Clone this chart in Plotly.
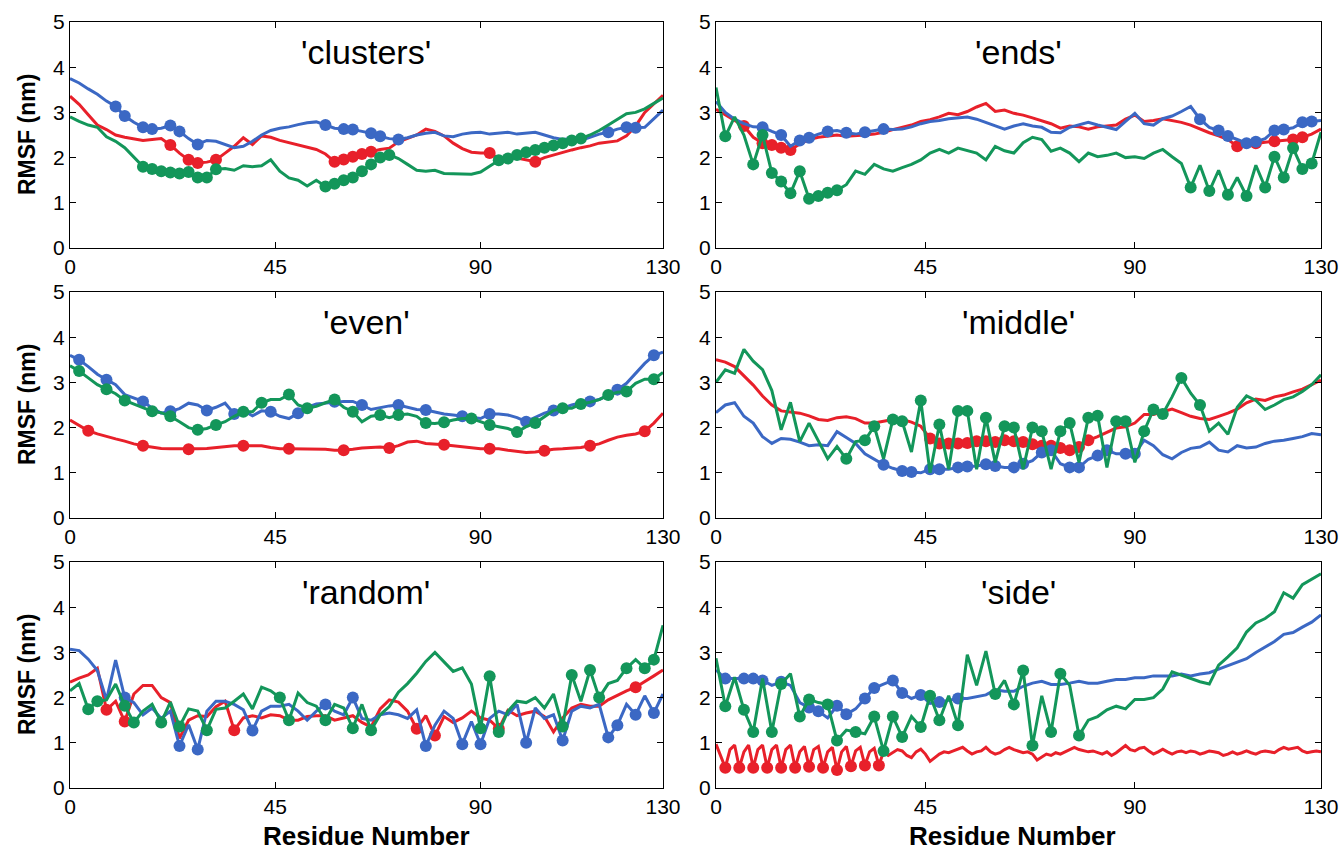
import plotly.graph_objects as go

RED = "#e8202a"
BLUE = "#3b68c4"
GREEN = "#13965a"

X_TICKS = [0, 45, 90, 130]
Y_TICKS = [0, 1, 2, 3, 4, 5]
TITLES = ["'clusters'", "'ends'", "'even'", "'middle'", "'random'", "'side'"]

# ---- values at residues 0,2,4,...,130 (side_red: every residue 0..130) ----
clusters_red = [3.36,3.18,2.95,2.72,2.62,2.5,2.45,2.42,2.38,2.4,
                2.42,2.28,2.1,1.95,1.88,1.9,1.95,2.1,2.25,2.44,
                2.29,2.48,2.45,2.38,2.33,2.28,2.23,2.18,2.08,1.91,
                1.96,2.02,2.08,2.13,2.18,2.21,2.35,2.42,2.5,2.63,
                2.58,2.48,2.32,2.2,2.12,2.1,2.1,1.98,2.02,1.99,
                1.95,1.91,2.0,2.06,2.12,2.17,2.22,2.26,2.32,2.35,
                2.37,2.48,2.7,3.0,3.2,3.38]
clusters_red_marks = [22,26,28,32,58,60,62,64,66,92,102]
clusters_blue = [3.75,3.65,3.52,3.4,3.25,3.13,2.92,2.78,2.67,2.63,
                 2.65,2.71,2.58,2.42,2.29,2.38,2.36,2.29,2.22,2.25,
                 2.36,2.5,2.6,2.65,2.68,2.73,2.77,2.79,2.72,2.65,
                 2.63,2.62,2.58,2.54,2.47,2.42,2.4,2.44,2.5,2.54,
                 2.56,2.48,2.46,2.52,2.55,2.56,2.52,2.54,2.56,2.52,
                 2.54,2.56,2.5,2.44,2.4,2.42,2.38,2.45,2.52,2.56,
                 2.63,2.67,2.66,2.67,2.85,3.05]
clusters_blue_marks = [10,12,16,18,22,24,28,56,60,62,66,68,72,118,122,124]
clusters_green = [2.9,2.8,2.72,2.67,2.46,2.36,2.22,2.0,1.8,1.75,
                  1.7,1.67,1.65,1.68,1.56,1.56,1.74,1.76,1.72,1.82,
                  1.8,1.82,1.95,1.7,1.55,1.5,1.37,1.5,1.36,1.42,
                  1.5,1.56,1.7,1.85,2.0,2.06,1.98,1.85,1.72,1.7,
                  1.72,1.65,1.64,1.64,1.63,1.68,1.82,1.94,1.98,2.06,
                  2.12,2.17,2.22,2.27,2.32,2.38,2.42,2.5,2.6,2.72,
                  2.85,2.97,3.0,3.08,3.2,3.32]
clusters_green_marks = [16,18,20,22,24,26,28,30,32,56,58,60,62,64,66,68,70,
                        94,96,98,100,102,104,106,108,110,112]

ends_red = [3.07,2.95,2.82,2.7,2.45,2.32,2.28,2.22,2.17,2.3,
            2.4,2.45,2.48,2.5,2.47,2.48,2.5,2.52,2.56,2.62,
            2.67,2.72,2.8,2.84,2.9,2.98,2.95,3.02,3.12,3.2,
            3.02,3.05,2.98,2.94,2.88,2.82,2.75,2.65,2.7,2.68,
            2.63,2.68,2.7,2.72,2.85,2.94,2.8,2.82,2.86,2.82,
            2.78,2.72,2.63,2.55,2.48,2.4,2.25,2.28,2.32,2.34,
            2.36,2.38,2.4,2.45,2.52,2.63]
ends_red_marks = [6,10,12,14,16,112,116,120,124,126]
ends_blue = [3.24,3.0,2.85,2.75,2.68,2.67,2.58,2.5,2.25,2.38,
             2.44,2.52,2.58,2.6,2.55,2.52,2.56,2.6,2.63,2.62,
             2.63,2.68,2.75,2.8,2.82,2.86,2.88,2.9,2.85,2.78,
             2.7,2.63,2.7,2.75,2.7,2.67,2.56,2.55,2.67,2.72,
             2.78,2.72,2.67,2.62,2.8,2.98,2.75,2.72,2.86,2.92,
             3.02,3.13,2.85,2.67,2.6,2.48,2.4,2.32,2.35,2.42,
             2.6,2.62,2.66,2.78,2.8,2.82]
ends_blue_marks = [10,14,18,20,24,28,32,36,104,108,110,114,116,120,122,126,128]
ends_green = [3.55,2.47,2.9,2.5,1.85,2.5,1.66,1.47,1.21,1.7,
              1.09,1.15,1.22,1.28,1.4,1.7,1.63,1.85,1.75,1.7,
              1.78,1.85,1.95,2.1,2.18,2.1,2.21,2.15,2.1,1.95,
              2.25,2.15,2.1,2.33,2.45,2.4,2.14,2.21,2.1,1.91,
              2.1,2.02,2.05,2.1,2.0,2.02,1.98,2.1,2.18,2.02,
              1.87,1.34,1.83,1.26,1.72,1.18,1.56,1.15,1.83,1.34,
              2.02,1.56,2.21,1.75,1.87,2.56]
ends_green_marks = [2,8,10,12,14,16,18,20,22,24,26,102,106,110,114,118,120,122,124,126,128]

even_red = [2.17,2.05,1.93,1.86,1.8,1.75,1.7,1.64,1.6,1.57,
            1.54,1.53,1.53,1.52,1.53,1.54,1.56,1.58,1.6,1.6,
            1.6,1.6,1.56,1.53,1.53,1.53,1.53,1.52,1.52,1.5,
            1.5,1.52,1.55,1.56,1.57,1.55,1.6,1.68,1.7,1.65,
            1.64,1.62,1.6,1.58,1.55,1.53,1.53,1.53,1.5,1.47,
            1.45,1.46,1.49,1.52,1.53,1.55,1.56,1.6,1.64,1.72,
            1.79,1.83,1.86,1.92,2.1,2.32]
even_red_marks = [4,16,26,38,48,60,70,82,92,104,114,126]
even_blue = [3.6,3.5,3.35,3.18,3.06,2.95,2.73,2.66,2.58,2.43,
             2.32,2.36,2.42,2.54,2.5,2.38,2.45,2.54,2.3,2.38,
             2.26,2.37,2.35,2.25,2.2,2.32,2.45,2.52,2.54,2.57,
             2.58,2.58,2.5,2.4,2.44,2.48,2.5,2.45,2.4,2.39,
             2.34,2.3,2.28,2.25,2.22,2.2,2.3,2.3,2.28,2.22,
             2.13,2.22,2.32,2.38,2.43,2.5,2.55,2.58,2.62,2.72,
             2.84,2.98,3.2,3.42,3.6,3.67]
even_blue_marks = [2,8,16,22,30,36,44,50,58,64,72,78,86,92,100,106,114,120,128]
even_green = [3.37,3.25,3.1,2.95,2.85,2.75,2.6,2.52,2.45,2.36,
              2.33,2.25,2.13,2.0,1.95,1.98,2.06,2.13,2.25,2.35,
              2.35,2.55,2.62,2.62,2.73,2.5,2.43,2.47,2.55,2.62,
              2.45,2.35,2.13,2.25,2.28,2.22,2.28,2.3,2.25,2.1,
              2.09,2.12,2.17,2.2,2.2,2.13,2.06,2.02,1.98,1.9,
              2.02,2.1,2.24,2.38,2.43,2.43,2.52,2.56,2.62,2.72,
              2.78,2.8,2.98,3.07,3.07,3.22]
even_green_marks = [2,8,12,18,22,28,32,38,42,48,52,58,62,68,72,78,82,88,92,98,
                    102,108,112,118,122,128]

middle_red = [3.5,3.45,3.35,3.15,2.94,2.7,2.5,2.37,2.35,2.32,
              2.26,2.18,2.16,2.22,2.24,2.2,2.1,2.1,2.14,2.18,
              2.18,2.12,2.03,1.76,1.65,1.65,1.65,1.66,1.7,1.7,
              1.68,1.72,1.7,1.68,1.63,1.6,1.6,1.55,1.5,1.57,
              1.72,1.8,1.9,1.99,2.02,2.1,2.29,2.29,2.35,2.41,
              2.33,2.25,2.2,2.18,2.25,2.32,2.41,2.55,2.63,2.6,
              2.68,2.72,2.79,2.85,2.95,3.05]
middle_red_marks = [46,48,50,52,54,56,58,60,62,64,66,68,70,72,74,76,78,80]
middle_blue = [2.33,2.5,2.55,2.25,2.1,1.8,1.65,1.76,1.74,1.68,
               1.6,1.62,1.6,1.91,1.78,1.65,1.42,1.3,1.18,1.1,
               1.04,1.02,1.0,1.08,1.08,1.08,1.12,1.14,1.15,1.19,
               1.15,1.12,1.12,1.2,1.27,1.45,1.5,1.2,1.12,1.12,
               1.3,1.38,1.5,1.42,1.42,1.42,1.72,1.6,1.4,1.31,
               1.45,1.54,1.57,1.68,1.5,1.46,1.6,1.55,1.57,1.65,
               1.7,1.72,1.76,1.8,1.87,1.84]
middle_blue_marks = [36,40,42,46,48,52,54,58,60,64,66,70,72,76,78,82,84,88,90]
middle_green = [3.0,3.28,3.2,3.73,3.47,3.28,2.82,1.95,2.56,1.69,
                2.1,1.69,1.31,1.58,1.31,1.69,1.72,2.03,1.31,2.18,
                2.14,1.46,2.6,1.0,2.07,1.08,2.37,2.37,1.08,2.22,
                1.23,2.03,2.0,1.08,2.0,1.92,1.08,1.92,2.1,1.23,
                2.22,2.26,1.12,2.14,2.14,1.23,1.92,2.4,2.3,2.68,
                3.1,2.76,2.5,1.92,2.1,1.85,2.45,2.7,2.6,2.4,
                2.5,2.62,2.68,2.8,2.95,3.17]
middle_green_marks = [28,32,34,38,40,44,48,52,54,58,62,64,68,70,74,76,80,82,86,88,
                      92,94,96,100,104]

random_red = [2.34,2.43,2.5,2.65,1.73,1.92,1.47,2.08,2.27,2.27,
              2.0,1.89,1.1,1.5,1.6,1.58,1.8,1.92,1.28,1.55,
              1.6,1.55,1.62,1.6,1.5,1.5,1.58,1.6,1.6,1.5,
              1.55,1.6,1.45,1.35,1.75,1.95,1.9,1.7,1.31,1.6,
              1.16,1.58,1.45,1.55,1.7,1.55,1.5,1.31,1.72,1.6,
              1.66,1.7,1.58,1.24,1.55,1.77,1.85,1.81,1.81,1.95,
              2.05,2.15,2.23,2.35,2.48,2.61]
random_red_marks = [8,12,36,76,80,94,124]
random_blue = [3.07,3.04,2.85,2.6,1.95,2.83,2.0,1.89,1.62,1.77,
               1.54,1.7,0.93,1.4,0.85,1.7,1.92,1.92,1.85,1.73,
               1.27,1.7,1.81,1.81,1.85,1.7,1.5,1.7,1.85,1.7,
               1.62,2.0,1.54,1.5,1.62,1.66,1.62,1.54,1.73,0.93,
               1.39,1.7,1.54,0.97,1.47,0.97,1.54,1.7,1.62,1.85,
               1.0,1.77,1.54,1.62,1.05,1.7,1.81,1.77,1.85,1.12,
               1.39,1.85,1.62,2.04,1.66,2.08]
random_blue_marks = [12,24,28,40,56,62,78,86,90,100,108,118,120,124,128]
random_green = [2.15,2.31,1.74,1.92,1.95,2.3,1.82,1.45,1.7,1.85,
                1.45,1.9,1.36,1.75,1.7,1.28,1.74,1.77,1.92,2.08,
                1.75,2.23,2.15,2.0,1.5,2.1,1.89,1.81,1.5,1.85,
                1.77,1.32,1.85,1.28,1.62,1.8,2.12,2.31,2.54,2.8,
                3.0,2.8,2.58,2.66,2.3,1.32,2.47,1.24,1.7,1.92,
                1.89,2.0,1.77,2.08,1.36,2.5,1.92,2.61,2.0,2.31,
                2.38,2.65,2.84,2.65,2.84,3.6]
random_green_marks = [4,6,12,14,20,24,30,46,48,56,62,66,90,92,94,108,110,114,116,
                      122,126,128]

side_red = [0.97,0.7,0.45,0.85,0.95,0.45,0.8,0.95,0.45,0.85,
            0.95,0.45,0.85,0.95,0.45,0.85,0.95,0.45,0.8,0.92,
            0.47,0.85,0.92,0.45,0.8,0.9,0.4,0.8,0.92,0.48,
            0.82,0.9,0.5,0.8,0.88,0.5,0.8,0.72,0.78,0.85,
            0.82,0.72,0.67,0.8,0.86,0.75,0.59,0.68,0.75,0.8,
            0.78,0.82,0.86,0.9,0.82,0.75,0.8,0.82,0.9,0.8,
            0.75,0.78,0.85,0.9,0.85,0.82,0.78,0.8,0.75,0.62,
            0.68,0.75,0.72,0.78,0.75,0.8,0.86,0.9,0.85,0.82,
            0.8,0.82,0.78,0.75,0.8,0.72,0.78,0.85,0.94,0.85,
            0.82,0.88,0.9,0.82,0.75,0.8,0.86,0.8,0.75,0.8,
            0.82,0.78,0.82,0.8,0.75,0.78,0.82,0.8,0.78,0.72,
            0.75,0.8,0.75,0.78,0.82,0.78,0.75,0.8,0.82,0.8,
            0.78,0.85,0.9,0.86,0.88,0.9,0.82,0.78,0.8,0.82,
            0.8]
side_red_marks = [2,5,8,11,14,17,20,23,26,29,32,35]
side_blue = [2.61,2.42,2.42,2.42,2.42,2.38,2.27,2.35,2.27,1.89,
             1.78,1.7,1.55,1.82,1.63,1.75,1.98,2.21,2.3,2.38,
             2.1,1.98,2.06,1.87,1.9,1.94,1.98,1.98,2.02,2.06,
             2.17,2.14,2.14,2.25,2.32,2.36,2.29,2.29,2.32,2.36,
             2.32,2.32,2.36,2.4,2.4,2.44,2.44,2.48,2.48,2.48,
             2.52,2.48,2.52,2.55,2.63,2.71,2.78,2.86,3.0,3.12,
             3.24,3.4,3.44,3.56,3.67,3.83]
side_blue_marks = [2,6,8,10,14,20,22,26,28,32,34,38,40,44,48,52]
side_green = [2.87,1.81,2.45,1.73,1.24,2.42,1.24,2.3,2.53,1.58,
              1.96,1.89,1.85,1.05,1.28,1.24,1.2,1.58,0.82,1.58,
              1.13,1.58,1.35,2.04,1.5,2.04,1.39,2.95,2.27,3.03,
              2.08,2.38,1.85,2.6,0.94,2.04,1.24,2.53,2.27,1.16,
              1.5,1.58,1.73,1.81,1.75,1.96,1.96,2.0,2.19,2.57,
              2.5,2.42,2.35,2.3,2.72,2.9,3.1,3.45,3.65,3.75,
              3.9,4.32,4.2,4.5,4.62,4.74]
side_green_marks = [2,6,8,12,14,18,20,24,26,30,34,36,38,40,44,46,48,52,60,64,66,68,
                    72,74,78]

PANELS = [
    [(clusters_red, clusters_red_marks, RED), (clusters_blue, clusters_blue_marks, BLUE),
     (clusters_green, clusters_green_marks, GREEN)],
    [(ends_red, ends_red_marks, RED), (ends_blue, ends_blue_marks, BLUE),
     (ends_green, ends_green_marks, GREEN)],
    [(even_red, even_red_marks, RED), (even_blue, even_blue_marks, BLUE),
     (even_green, even_green_marks, GREEN)],
    [(middle_red, middle_red_marks, RED), (middle_blue, middle_blue_marks, BLUE),
     (middle_green, middle_green_marks, GREEN)],
    [(random_red, random_red_marks, RED), (random_blue, random_blue_marks, BLUE),
     (random_green, random_green_marks, GREEN)],
    [(side_red, side_red_marks, RED), (side_blue, side_blue_marks, BLUE),
     (side_green, side_green_marks, GREEN)],
]

# the page's body margin is removed (see post_script), so positions are page pixels
W, H = 1339, 852
COLS = [(70, 663), (716, 1321)]
ROWS = [(22, 248), (292, 518), (562, 788)]
XLABEL_CX = [366, 1012]
FONT = "Liberation Sans, Arial, sans-serif"


def px_x(p):
    return p / W


def px_y(p):
    return 1 - p / H


fig = go.Figure()
layout_axes = {}
annotations = []
for i, series in enumerate(PANELS):
    r, c = divmod(i, 2)
    n_ax = i + 1
    sfx = "" if n_ax == 1 else str(n_ax)
    xd = [px_x(COLS[c][0]), px_x(COLS[c][1])]
    yd = [px_y(ROWS[r][1]), px_y(ROWS[r][0])]
    for y, marks, color in series:
        n = len(y)
        step = 130 / (n - 1)
        xs = [k * step for k in range(n)]
        sizes = [12 if any(abs(xv - m) < step / 2 for m in marks) else 0 for xv in xs]
        fig.add_trace(go.Scatter(
            x=xs, y=y, mode="lines+markers",
            line=dict(color=color, width=3),
            marker=dict(size=sizes, color=color, symbol="circle", opacity=1,
                        line=dict(width=0)),
            xaxis="x" + sfx, yaxis="y" + sfx, showlegend=False, hoverinfo="skip"))
    common = dict(ticks="inside", ticklen=6, tickwidth=1, tickcolor="black",
                  showline=True, mirror="ticks", linecolor="black", linewidth=1,
                  showgrid=False, zeroline=False, automargin=False,
                  ticklabeloverflow="allow",
                  tickfont=dict(size=21, family=FONT, color="black"))
    layout_axes["xaxis" + sfx] = dict(domain=xd, anchor="y" + sfx, range=[0, 130],
                                      tickvals=X_TICKS, **common)
    layout_axes["yaxis" + sfx] = dict(domain=yd, anchor="x" + sfx, range=[0, 5],
                                      tickvals=Y_TICKS, **common)
    cx = (COLS[c][0] + COLS[c][1]) / 2
    annotations.append(dict(text=TITLES[i], xref="paper", yref="paper",
                            x=px_x(cx), y=px_y(ROWS[r][0] + 30),
                            xanchor="center", yanchor="middle",
                            showarrow=False, font=dict(size=34, family=FONT, color="black")))
    if c == 0:
        annotations.append(dict(text="<b>RMSF (nm)</b>", xref="paper", yref="paper",
                                x=px_x(27), y=px_y((ROWS[r][0] + ROWS[r][1]) / 2),
                                xanchor="center", yanchor="middle", textangle=-90,
                                showarrow=False, font=dict(size=23, family=FONT, color="black")))
    if r == 2:
        annotations.append(dict(text="<b>Residue Number</b>", xref="paper", yref="paper",
                                x=px_x(XLABEL_CX[c]), y=px_y(836),
                                xanchor="center", yanchor="middle",
                                showarrow=False, font=dict(size=26, family=FONT, color="black")))

fig.update_layout(width=W, height=H, margin=dict(l=0, r=0, t=0, b=0),
                  paper_bgcolor="white", plot_bgcolor="white",
                  annotations=annotations, **layout_axes)
fig.write_html("out.html", config={"displayModeBar": False},
               post_script="document.body.style.margin='0';"
                           "document.body.style.overflow='hidden';")
